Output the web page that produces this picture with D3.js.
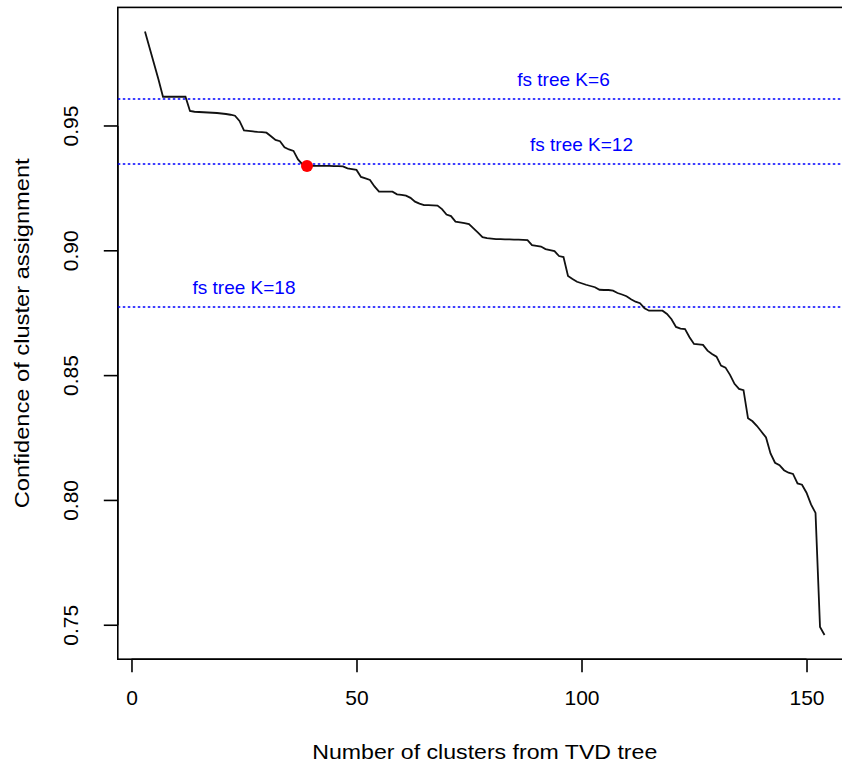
<!DOCTYPE html>
<html>
<head>
<meta charset="utf-8">
<script src="https://cdn.jsdelivr.net/npm/d3@7"></script>
<style>
  html, body { margin: 0; padding: 0; background: #ffffff; }
  svg { display: block; }
  text { font-family: "Liberation Sans", Arial, sans-serif; }
</style>
</head>
<body>
<script>
// ---- data ----
const clusterStart = 3;
const confidence = [
  0.9878, 0.9814, 0.9750, 0.9686, 0.9617, 0.9617, 0.9617, 0.9617, 0.9617, 0.9617,
  0.9560, 0.9557, 0.9556, 0.9555, 0.9554, 0.9553, 0.9552, 0.9550, 0.9548, 0.9545,
  0.9541, 0.9520, 0.9482, 0.9480, 0.9478, 0.9476, 0.9475, 0.9473, 0.9459, 0.9444,
  0.9439, 0.9415, 0.9406, 0.9400, 0.9366, 0.9346, 0.9340, 0.9340, 0.9340, 0.9340,
  0.9340, 0.9340, 0.9339, 0.9339, 0.9338, 0.9330, 0.9327, 0.9324, 0.9296, 0.9290,
  0.9284, 0.9258, 0.9237, 0.9237, 0.9237, 0.9237, 0.9226, 0.9224, 0.9221, 0.9212,
  0.9197, 0.9189, 0.9183, 0.9183, 0.9182, 0.9181, 0.9167, 0.9145, 0.9139, 0.9117,
  0.9114, 0.9111, 0.9107, 0.9090, 0.9073, 0.9055, 0.9051, 0.9049, 0.9047, 0.9047,
  0.9046, 0.9046, 0.9045, 0.9045, 0.9044, 0.9043, 0.9023, 0.9020, 0.9017, 0.9007,
  0.9003, 0.8999, 0.8979, 0.8975, 0.8899, 0.8887, 0.8876, 0.8870, 0.8864, 0.8859,
  0.8854, 0.8844, 0.8843, 0.8843, 0.8840, 0.8831, 0.8825, 0.8818, 0.8806, 0.8796,
  0.8790, 0.8770, 0.8760, 0.8760, 0.8760, 0.8760, 0.8747, 0.8726, 0.8695, 0.8688,
  0.8686, 0.8654, 0.8627, 0.8625, 0.8623, 0.8600, 0.8587, 0.8576, 0.8540, 0.8532,
  0.8503, 0.8467, 0.8447, 0.8442, 0.8329, 0.8317, 0.8298, 0.8275, 0.8252, 0.8188,
  0.8151, 0.8141, 0.8121, 0.8111, 0.8106, 0.8068, 0.8063, 0.8031, 0.7984, 0.7950,
  0.7493, 0.7461
];
const refLabels = ["fs tree K=6", "fs tree K=12", "fs tree K=18"];
const refValues = [0.9608, 0.9348, 0.8775];
const refLabelX = [96, 100, 25];
const highlightCluster = [39];
const highlightValue = [0.9340];
const xTicks = [0, 50, 100, 150];
const yTicks = [0.75, 0.80, 0.85, 0.90, 0.95];
const xTitle = "Number of clusters from TVD tree";
const yTitle = "Confidence of cluster assignment";

const points = confidence.map((v, i) => ({ k: clusterStart + i, v }));

// ---- layout ----
const W = 842, H = 769;
const x = d3.scaleLinear().domain([-3.04, 160.04]).range([117.8, 851.7]);
const y = d3.scaleLinear().domain([0.7364, 0.9975]).range([659.2, 7.4]);

const svg = d3.select("body").append("svg").attr("width", W).attr("height", H);

// plot box
svg.append("rect")
  .attr("x", x.range()[0]).attr("y", y.range()[1])
  .attr("width", x.range()[1] - x.range()[0])
  .attr("height", y.range()[0] - y.range()[1])
  .attr("fill", "none").attr("stroke", "#000").attr("stroke-width", 1.6);

// x axis
const xAxis = svg.append("g").attr("transform", `translate(0,${y.range()[0]})`)
  .call(d3.axisBottom(x).tickValues(xTicks).tickFormat(d3.format("d")).tickSize(13).tickPadding(18));
xAxis.select(".domain").attr("d", `M${x(0)},0H${x(150)}`).attr("stroke-width", 1.6);
xAxis.selectAll(".tick line").attr("stroke-width", 1.6);
xAxis.selectAll(".tick text").attr("font-size", 21).attr("fill", "#000");

// y axis
const yAxis = svg.append("g").attr("transform", `translate(${x.range()[0]},0)`)
  .call(d3.axisLeft(y).tickValues(yTicks).tickFormat(d3.format(".2f")).tickSize(14).tickPadding(0));
yAxis.select(".domain").attr("d", `M0,${y(0.75)}V${y(0.95)}`).attr("stroke-width", 1.6);
yAxis.selectAll(".tick line").attr("stroke-width", 1.6);
yAxis.selectAll(".tick text")
  .attr("font-size", 21).attr("fill", "#000")
  .attr("x", null)
  .attr("text-anchor", "middle")
  .attr("transform", d => `translate(-47,${y(d)}) rotate(-90)`)
  .attr("y", 0)
  .attr("dy", "0.35em");
yAxis.selectAll(".tick").attr("transform", null);
yAxis.selectAll(".tick line").attr("transform", d => `translate(0,${y(d)})`);

// reference lines
svg.selectAll("line.ref").data(refValues).join("line")
  .attr("class", "ref")
  .attr("x1", x.range()[0]).attr("x2", x.range()[1])
  .attr("y1", d => y(d)).attr("y2", d => y(d))
  .attr("stroke", "#0000ff").attr("stroke-width", 1.5)
  .attr("stroke-dasharray", "2.5,2.5");

svg.selectAll("text.ref").data(refLabels).join("text")
  .attr("class", "ref")
  .attr("x", (d, i) => x(refLabelX[i]))
  .attr("y", (d, i) => y(refValues[i]) - 20)
  .attr("dy", "0.35em")
  .attr("text-anchor", "middle")
  .attr("font-size", 19)
  .attr("fill", "#0000ff")
  .text(d => d);

// main line
const line = d3.line().x(d => x(d.k)).y(d => y(d.v));
svg.append("path").datum(points)
  .attr("d", line)
  .attr("fill", "none").attr("stroke", "#111").attr("stroke-width", 1.8);

// highlight point
svg.selectAll("circle.hl").data(highlightCluster).join("circle")
  .attr("class", "hl")
  .attr("cx", d => x(d)).attr("cy", (d, i) => y(highlightValue[i]))
  .attr("r", 6).attr("fill", "#ff0000");

// titles
svg.append("text")
  .attr("x", (x.range()[0] + x.range()[1]) / 2).attr("y", 752)
  .attr("dy", "0.35em").attr("text-anchor", "middle")
  .attr("font-size", 21)
  .attr("textLength", 345).attr("lengthAdjust", "spacingAndGlyphs")
  .text(xTitle);

svg.append("text")
  .attr("transform", `translate(22,${(y.range()[0] + y.range()[1]) / 2}) rotate(-90)`)
  .attr("dy", "0.35em").attr("text-anchor", "middle")
  .attr("font-size", 21)
  .attr("textLength", 350).attr("lengthAdjust", "spacingAndGlyphs")
  .text(yTitle);
</script>
</body>
</html>
